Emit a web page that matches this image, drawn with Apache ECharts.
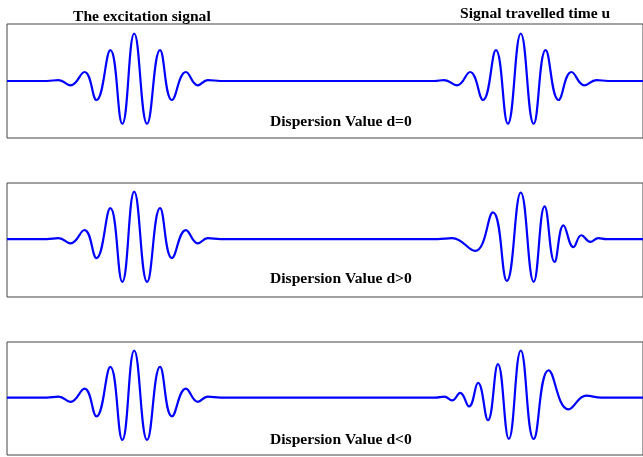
<!DOCTYPE html>
<html>
<head>
<meta charset="utf-8">
<script src="https://cdn.jsdelivr.net/npm/echarts@6/dist/echarts.min.js"></script>
<style>html,body{margin:0;padding:0;background:#fff;}#c{width:643px;height:457px;}</style>
</head>
<body>
<div id="c"></div>
<script>
// Excitation signal (left wave, same in all three panels): time, amplitude at extrema
const excT = [0, 40, 52, 64, 78, 90, 104, 116, 128, 141, 154, 166, 180, 192, 202, 215];
const excY = [0, 0, 0.02, -0.09, 0.19, -0.4, 0.65, -0.9, 1.0, -0.9, 0.65, -0.4, 0.19, -0.09, 0.02, 0];

// Panel 1: d = 0, arrived signal
const d0T = [430, 440, 453, 466, 479, 492, 504, 517, 530, 542, 555, 568, 581, 593, 605, 640];
const d0Y = [0, 0.02, -0.09, 0.19, -0.4, 0.65, -0.9, 1.0, -0.9, 0.65, -0.4, 0.19, -0.09, 0.02, 0, 0];

// Panel 2: d > 0, arrived signal
const dPosT = [433, 448, 471, 489, 503, 517, 530, 541, 551, 560, 570, 578, 587, 595, 603, 640];
const dPosY = [0, 0.02, -0.25, 0.56, -0.88, 0.98, -0.9, 0.69, -0.48, 0.29, -0.17, 0.08, -0.06, 0.02, 0, 0];

// Panel 3: d < 0, arrived signal
const dNegT = [431, 440, 448, 456, 465, 474, 484, 494, 505, 517, 530, 545, 565, 583, 598, 640];
const dNegY = [0, 0.02, -0.06, 0.1, -0.19, 0.31, -0.48, 0.71, -0.88, 1.0, -0.88, 0.58, -0.25, 0.04, 0, 0];

const headLeft = 'The excitation signal';
const headRight = 'Signal travelled time u';
const panelLabels = ['Dispersion Value d=0', 'Dispersion Value d>0', 'Dispersion Value d<0'];

function pairs(t, y) { return t.map((v, i) => [v, y[i]]); }
const panelData = [
  pairs(excT, excY).concat(pairs(d0T, d0Y)),
  pairs(excT, excY).concat(pairs(dPosT, dPosY)),
  pairs(excT, excY).concat(pairs(dNegT, dNegY))
];

const gridTops = [24, 183, 342];
const gridHeights = [114, 114, 113];
const yRanges = [[-1.2, 1.2], [-1.22, 1.18], [-1.22, 1.18]];
const labelY = [122, 279, 440];

const font = {fontFamily: '"Liberation Serif", "Times New Roman", serif', fontWeight: 'bold', fontSize: 15.6, fill: '#000'};

const chart = echarts.init(document.getElementById('c'));
chart.setOption({
  animation: false,
  backgroundColor: '#fff',
  grid: gridTops.map((t, i) => ({left: 7, top: t, width: 640, height: gridHeights[i], show: true, borderColor: '#444', borderWidth: 1, backgroundColor: 'transparent'})),
  xAxis: gridTops.map((t, i) => ({type: 'value', gridIndex: i, min: 0, max: 640, show: false})),
  yAxis: gridTops.map((t, i) => ({type: 'value', gridIndex: i, min: yRanges[i][0], max: yRanges[i][1], show: false})),
  series: panelData.map((d, i) => ({
    type: 'line', xAxisIndex: i, yAxisIndex: i, data: d, showSymbol: false, smooth: 0.45,
    lineStyle: {color: '#0000ff', width: 2.2}
  })),
  graphic: [
    {type: 'text', left: 73, top: 9, style: Object.assign({text: headLeft}, font)},
    {type: 'text', left: 460, top: 6, style: Object.assign({text: headRight}, font)}
  ].concat(panelLabels.map((s, i) => ({type: 'text', left: 270, top: labelY[i] - 8, style: Object.assign({text: s}, font)})))
});
</script>
</body>
</html>
